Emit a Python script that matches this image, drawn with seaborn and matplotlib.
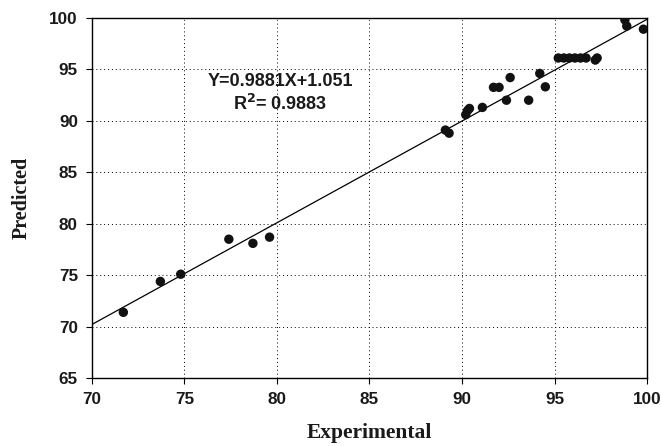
import matplotlib
matplotlib.use("Agg")
import matplotlib.pyplot as plt
import seaborn as sns
import numpy as np
import pandas as pd

# Data
experimental = [71.7, 73.7, 74.8, 77.4, 78.7, 79.6,
                89.1, 89.3, 90.2, 90.3, 90.4, 91.1, 91.7, 92.0, 92.4, 92.6,
                93.6, 94.2, 94.5,
                95.2, 95.5, 95.8, 96.1, 96.4, 96.7, 97.2, 97.3,
                98.8, 98.9, 99.8]
predicted = [71.4, 74.4, 75.1, 78.5, 78.1, 78.7,
             89.1, 88.8, 90.6, 91.0, 91.2, 91.3, 93.25, 93.25, 92.0, 94.2,
             92.0, 94.6, 93.3,
             96.1, 96.1, 96.1, 96.1, 96.1, 96.1, 95.9, 96.1,
             99.8, 99.2, 98.9]
slope = 0.9881
intercept = 1.051
r_squared = 0.9883
x_ticks = [70, 75, 80, 85, 90, 95, 100]
y_ticks = [65, 70, 75, 80, 85, 90, 95, 100]

df = pd.DataFrame({"Experimental": experimental, "Predicted": predicted})
line_x = np.array([70, 100])
line_df = pd.DataFrame({"x": line_x, "y": slope * line_x + intercept})

sns.set_theme(style="white")
plt.rcParams["font.family"] = ["Liberation Sans", "DejaVu Sans"]

fig = plt.figure(figsize=(6.61, 4.46), dpi=100)
ax = fig.add_axes([0.139, 0.152, 0.840, 0.808])

sns.lineplot(data=line_df, x="x", y="y", ax=ax, color="black", linewidth=0.9, zorder=2)
sns.scatterplot(data=df, x="Experimental", y="Predicted", ax=ax, color="#111111",
                s=46, edgecolor="none", zorder=3)

ax.set_xlim(70, 100)
ax.set_ylim(65, 100)
ax.set_xticks(x_ticks)
ax.set_yticks(y_ticks)
ax.grid(True, linestyle=(0, (1, 3)), color="black", linewidth=0.7)
ax.set_axisbelow(True)

for sp in ax.spines.values():
    sp.set_color("black")
    sp.set_linewidth(1.0)
    sp.set_visible(True)

ax.tick_params(axis="both", direction="out", length=4, width=0.8, color="black",
               labelsize=12.3, pad=6, bottom=True, left=True)
for lab in ax.get_xticklabels() + ax.get_yticklabels():
    lab.set_fontweight("bold")
    lab.set_color("#1a1a1a")

ax.set_xlabel("Experimental", fontfamily="Liberation Serif", fontweight="bold",
              fontsize=15.5, color="#1a1a1a", labelpad=11.5)
ax.set_ylabel("Predicted", fontfamily="Liberation Serif", fontweight="bold",
              fontsize=14.5, color="#1a1a1a", labelpad=13)

ax.text(80.16, 93.38, f"Y={slope}X+{intercept}", ha="center", va="baseline",
        fontsize=13, fontweight="bold", color="#1a1a1a")
ax.text(80.16, 91.04, f"R$^{{\\mathbf{{2}}}}$= {r_squared}", ha="center", va="baseline",
        fontsize=13, fontweight="bold", color="#1a1a1a")

fig.savefig("out.png", dpi=100)
